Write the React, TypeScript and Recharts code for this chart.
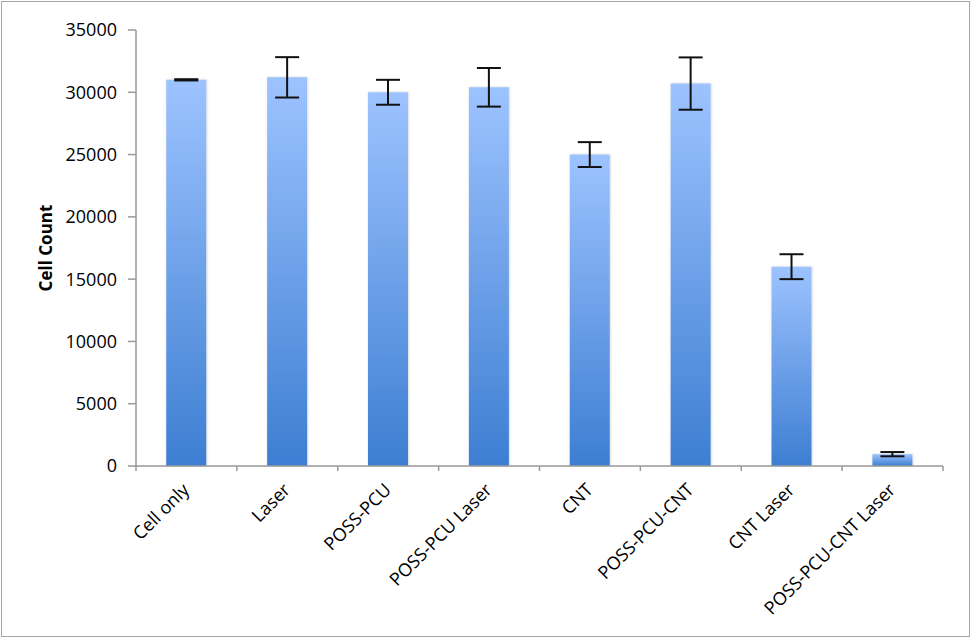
import React from 'react'
import { BarChart, Bar, XAxis, YAxis, ErrorBar } from 'recharts'

const categories = [
  'Cell only',
  'Laser',
  'POSS-PCU',
  'POSS-PCU Laser',
  'CNT',
  'POSS-PCU-CNT',
  'CNT Laser',
  'POSS-PCU-CNT Laser',
]
const cellCounts = [31000, 31200, 30000, 30400, 25000, 30700, 16000, 950]
const errors = [50, 1620, 1000, 1550, 1000, 2100, 1000, 170]
const yTicks = [0, 5000, 10000, 15000, 20000, 25000, 30000, 35000]

const data = categories.map((name, i) => ({ name, count: cellCounts[i], err: errors[i] }))

const FONT = '"Open Sans", sans-serif'
const WIDTH = 972
const HEIGHT = 638
const MARGIN = { top: 30, right: 29, bottom: 0, left: 0 }
const Y_AXIS_WIDTH = 136
const X_AXIS_HEIGHT = 172
const BAND = (WIDTH - MARGIN.right - Y_AXIS_WIDTH) / categories.length

// rotated category label plus the boundary tick marks Excel draws between categories
const CategoryTick = ({ x, y, payload, index }: any) => {
  const left = x - BAND / 2
  const ax = x + 4
  const ay = y + 25
  return (
    <g>
      <line x1={left} y1={y} x2={left} y2={y + 5} stroke="#999" strokeWidth={1.5} />
      {index === categories.length - 1 && (
        <line x1={left + BAND} y1={y} x2={left + BAND} y2={y + 5} stroke="#999" strokeWidth={1.5} />
      )}
      <text
        x={ax}
        y={ay}
        transform={`rotate(-45, ${ax}, ${ay})`}
        textAnchor="end"
        fontFamily={FONT}
        fontSize={18}
        fill="#000"
      >
        {payload.value}
      </text>
    </g>
  )
}

const YLabel = ({ viewBox }: any) => {
  const cy = viewBox.y + viewBox.height / 2
  return (
    <text
      x={52}
      y={cy}
      transform={`rotate(-90, 52, ${cy})`}
      textAnchor="middle"
      fontFamily={FONT}
      fontSize={17}
      fontWeight="bold"
      fill="#000"
    >
      Cell Count
    </text>
  )
}

export default function App() {
  return (
    <div style={{ position: 'absolute', left: 0, top: 0, width: WIDTH, height: HEIGHT, background: '#fff' }}>
      <div
        style={{
          position: 'absolute',
          left: 1,
          top: 1,
          width: 967,
          height: 634,
          border: '1.5px solid #a6a6a6',
        }}
      />
      <BarChart width={WIDTH} height={HEIGHT} data={data} margin={MARGIN} barCategoryGap="30%">
        <defs>
          <linearGradient id="barFill" x1="0" y1="0" x2="0" y2="1">
            <stop offset="0%" stopColor="#9dc3ff" />
            <stop offset="100%" stopColor="#3d7ed2" />
          </linearGradient>
          <filter id="barShadow" x="-20%" y="-5%" width="140%" height="110%">
            <feDropShadow dx="0.5" dy="0" stdDeviation="1.2" floodColor="#000" floodOpacity="0.2" />
          </filter>
        </defs>
        <XAxis
          dataKey="name"
          height={X_AXIS_HEIGHT}
          interval={0}
          tickLine={false}
          tickSize={0}
          tickMargin={0}
          tick={<CategoryTick />}
          axisLine={{ stroke: '#999', strokeWidth: 1.5 }}
        />
        <YAxis
          width={Y_AXIS_WIDTH}
          domain={[0, 35000]}
          ticks={yTicks}
          interval={0}
          tickSize={8}
          tickMargin={11}
          tick={{ fontFamily: FONT, fontSize: 18, fill: '#000' }}
          tickLine={{ stroke: '#999', strokeWidth: 1.5 }}
          axisLine={{ stroke: '#999', strokeWidth: 1.5 }}
          label={<YLabel />}
        />
        <Bar dataKey="count" fill="url(#barFill)" filter="url(#barShadow)" isAnimationActive={false}>
          <ErrorBar dataKey="err" width={12} stroke="#111" strokeWidth={2} direction="y" />
        </Bar>
      </BarChart>
    </div>
  )
}
